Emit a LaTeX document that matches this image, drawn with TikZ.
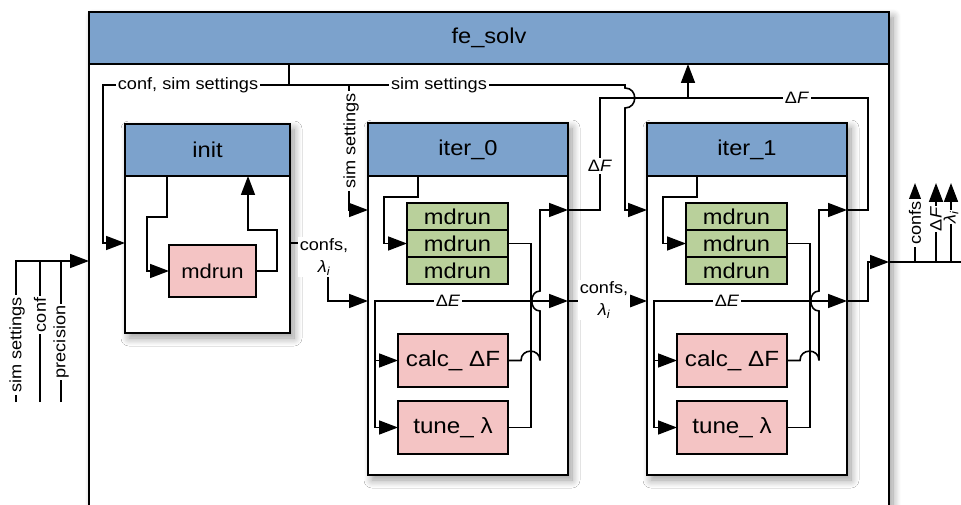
\documentclass[tikz,border=0pt]{standalone}
\usepackage{fontspec}
\setmainfont{Liberation Sans}[FakeStretch=1.1]
\usetikzlibrary{arrows.meta,shadows.blur}

\definecolor{hdrblue}{HTML}{7CA2CC}
\definecolor{rungreen}{HTML}{B9D09B}
\definecolor{taskpink}{HTML}{F4C4C4}

\tikzset{
  wire/.style={line width=1.6pt},
  arr/.style={wire, -{Triangle[length=19pt,width=14pt]}},
  shade/.style={blur shadow={shadow xshift=4pt, shadow yshift=-5pt,
      shadow blur radius=8pt, shadow blur steps=10, shadow opacity=40}},
  frame/.style={draw, line width=1.7pt, fill=white, anchor=north west,
      inner sep=0pt, outer sep=0pt},
  hdr/.style={draw, line width=1.7pt, fill=hdrblue, anchor=north west,
      inner sep=0pt, outer sep=0pt, font=\fontsize{21.5pt}{25pt}\selectfont},
  runbox/.style={draw, line width=1.6pt, fill=rungreen, anchor=north west,
      inner sep=0pt, outer sep=0pt, minimum width=101pt, minimum height=27pt,
      font=\fontsize{21.5pt}{25pt}\selectfont},
  taskbox/.style={draw, line width=1.6pt, fill=taskpink, anchor=north west,
      inner sep=0pt, outer sep=0pt, font=\fontsize{22pt}{26pt}\selectfont},
  lab/.style={fill=white, inner sep=2pt, font=\fontsize{16.5pt}{22pt}\selectfont},
}

\begin{document}
\begin{tikzpicture}[x=1pt,y=-1pt]
\useasboundingbox (0,0) rectangle (961,505);
\clip (0,0) rectangle (961,505);

% outer solver block
\node[frame, shade, minimum width=800pt, minimum height=540pt] (fe) at (89,12) {};
\node[hdr, minimum width=800pt, minimum height=52pt] (feh) at (89,12) {fe\_solv};

% initialisation block
\node[frame, shade, minimum width=165pt, minimum height=209pt] (init) at (125,124) {};
\node[hdr, minimum width=165pt, minimum height=52pt] (inith) at (125,124) {init};
\node[taskbox, minimum width=87pt, minimum height=52pt,
      font=\fontsize{20pt}{24pt}\selectfont] (imd) at (169,245) {mdrun};
\draw[arr] (inith.south -| 167,0) -- (167,217) -| (147,250) |- (imd.west);
\draw[arr] (imd.east) -| (277,230) -| (inith.south -| 248,0);

% two iteration blocks
\foreach \k in {0,1}{
\begin{scope}[xshift=\k*279pt]
  \node[frame, shade, minimum width=200pt, minimum height=352pt] (it\k) at (368,123) {};
  \node[hdr, minimum width=200pt, minimum height=53pt] (ith\k) at (368,123) {iter\_\k};
  \node[runbox] (ra\k) at (407,203) {mdrun};
  \node[runbox] (rb\k) at (407,230) {mdrun};
  \node[runbox] (rc\k) at (407,257) {mdrun};
  \node[taskbox, minimum width=110pt, minimum height=53pt] (calc\k) at (398,334) {calc\_ Δ{}F};
  \node[taskbox, minimum width=110pt, minimum height=53pt] (tune\k) at (398,401) {tune\_ λ};
  \coordinate (dl\k) at (375,301);
  \coordinate (dm\k) at (531,301);
  \coordinate (fo\k) at (540,210);
  % header feeds the parallel runs
  \draw[arr] (418,176) -- (418,197) -| (384,230) |- (rb\k.west);
  % energy differences to both analysis steps
  \draw[arr] (rb\k.east) -| (dm\k) -- (dl\k) |- (tune\k.west);
  \draw[arr] (dl\k |- calc\k.west) -- (calc\k.west);
  % new lambdas and configurations
  \draw[arr] (tune\k.east) -| (dm\k) -- (it\k.east |- dm\k);
  % free energy estimate, hopping over the crossing wires
  \draw[arr] (calc\k.east) -- (521,360.5)
      .. controls (521,348) and (540,348) .. (540,360.5)
      -- (540,311) .. controls (529,311) and (529,291) .. (540,291)
      -- (fo\k) -- (it\k.east |- fo\k);
  \node[lab] (de\k) at (448,301) {Δ\textit{E}};
\end{scope}
}

% settings distribution along the top
\coordinate (cs) at (289,85);
\coordinate (ci) at (103,243);
\draw[wire] (cs |- feh.south) -- (cs);
\draw[arr] (cs) -| (ci) -- (init.west |- ci);
\draw[arr] (cs) -- (625,85) -- (625,88) .. controls (638,88) and (638,108) .. (625,108)
      -- (625,210) -- (it1.west |- 0,210);
\draw[arr] (349,85) -- (349,210) -- (it0.west |- 0,210);
\node[lab] (lcs) at (188,85) {conf, sim settings};
\node[lab] (lss) at (439,85) {sim settings};
\node[lab, rotate=90] (lss0) at (351,141) {sim settings};

% configurations passed from block to block
\coordinate (ic) at (328,243);
\draw[arr] (init.east |- ic) -- (ic) -- (328,301) -- (it0.west |- 0,301);
\node[lab, align=center] (cl0) at (324,257) {confs,\\\textit{λ\textsubscript{i}}};
\draw[arr] (it0.east |- 0,301) -- (it1.west |- 0,301);
\node[lab, align=center] (cl1) at (604,300) {confs,\\\textit{λ\textsubscript{i}}};

% free energy bus back to the solver
\coordinate (fb) at (600,98);
\coordinate (fr) at (868,98);
\draw[wire] (it0.east |- fo0) -- (fo0 -| fb) -- (fb) -- (fr) -- (fr |- fo1) -- (it1.east |- fo1);
\draw[arr] (688,98) -- (feh.south -| 688,0);
\node[lab] (ldf0) at (600,166) {Δ\textit{F}};
\node[lab] (ldf1) at (797,98) {Δ\textit{F}};

% solver inputs
\coordinate (inl) at (16,261);
\draw[arr] (16,402) -- (inl) -- (fe.west |- inl);
\draw[wire] (40,402) -- (40,261);
\draw[wire] (61,402) -- (61,261);
\node[lab, rotate=90] (insim) at (17,345) {sim settings};
\node[lab, rotate=90] (inconf) at (40,315) {conf};
\node[lab, rotate=90] (inprec) at (61,342) {precision};

% solver outputs
\coordinate (ob) at (868,262);
\draw[arr] (it1.east |- dm1) -- (dm1 -| ob) -- (ob) -- (fe.east |- ob);
\draw[wire] (fe.east |- ob) -- (975,262);
\draw[arr] (915,262) -- (915,183);
\draw[arr] (936,262) -- (936,183);
\draw[arr] (951,262) -- (951,183);
\node[lab, rotate=90] (outc) at (915,223) {confs};
\node[lab, rotate=90, inner sep=1pt] (outf) at (936,219) {Δ\textit{F}};
\node[lab, rotate=90, inner sep=1pt] (outl) at (951,217) {\textit{λ\textsubscript{i}}};
\end{tikzpicture}
\end{document}
